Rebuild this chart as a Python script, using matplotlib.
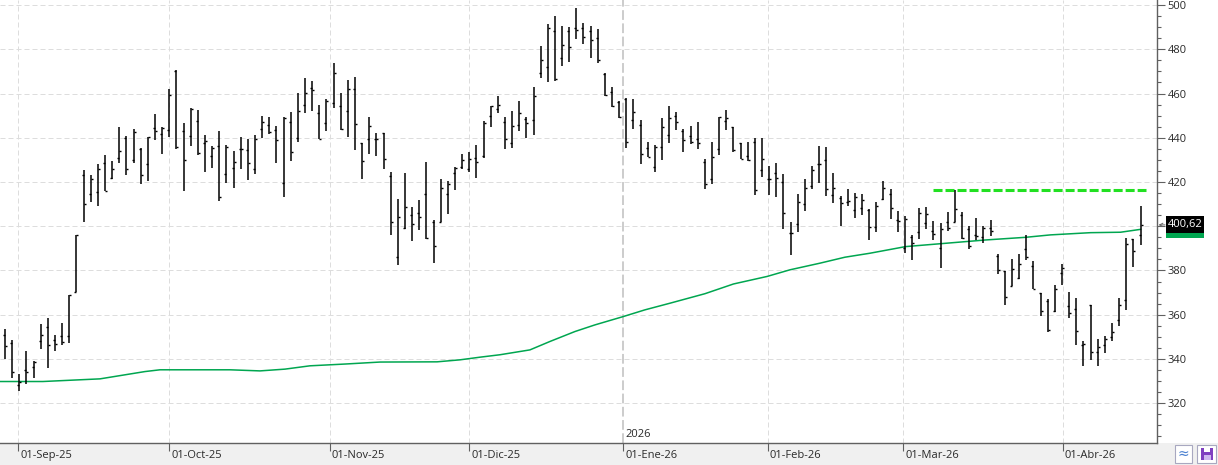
import numpy as np
import matplotlib
matplotlib.use("Agg")
import matplotlib.pyplot as plt
from matplotlib.patches import Rectangle
from matplotlib.ticker import MultipleLocator, FuncFormatter
from matplotlib.transforms import blended_transform_factory

plt.rcParams['font.family'] = ['Open Sans', 'DejaVu Sans']

# daily OHLC bars (bar index 0..159)
highs = [353.6, 348.6, 333.3, 343.4, 339.3, 355.9, 358.4, 350.9, 356.3, 369.0,
         396.2, 425.5, 423.3, 428.2, 432.2, 429.5, 445.0, 440.8, 444.0, 435.4,
         440.5, 450.8, 444.9, 462.0, 470.5, 446.7, 453.5, 452.6, 441.3, 436.4,
         443.1, 436.7, 434.0, 440.4, 439.5, 441.3, 449.8, 449.4, 445.5, 449.2,
         451.7, 460.1, 467.0, 465.7, 454.7, 457.5, 473.8, 460.2, 466.1, 467.5,
         437.5, 449.4, 442.2, 442.2, 424.5, 412.3, 424.1, 408.7, 411.9, 429.1,
         402.7, 421.4, 420.5, 426.8, 432.7, 433.6, 436.7, 447.4, 454.4, 458.7,
         449.4, 452.1, 456.6, 449.5, 463.0, 481.5, 491.6, 495.2, 490.5, 489.9,
         498.6, 491.7, 490.4, 489.2, 469.1, 462.8, 456.5, 458.1, 457.5, 447.9,
         438.1, 436.6, 448.9, 454.4, 451.5, 444.0, 445.2, 447.1, 430.3, 438.1,
         449.4, 452.6, 444.7, 437.5, 438.0, 439.9, 439.9, 427.4, 428.6, 423.6,
         402.0, 414.6, 421.4, 427.4, 436.4, 435.8, 424.1, 413.6, 416.9, 415.2,
         414.6, 407.8, 411.0, 420.5, 416.9, 406.9, 404.7, 396.1, 408.3, 408.7,
         402.4, 401.4, 406.5, 416.4, 406.5, 400.2, 403.8, 400.2, 402.9, 387.3,
         379.7, 385.2, 387.5, 396.1, 384.2, 369.7, 367.0, 373.5, 383.0, 370.3,
         367.6, 348.2, 364.5, 349.1, 350.5, 356.3, 367.6, 394.6, 394.3, 409.2]
lows = [340.1, 331.6, 325.3, 328.6, 331.2, 344.3, 336.1, 343.8, 346.2, 347.4,
        370.2, 402.1, 411.1, 409.3, 416.1, 421.5, 428.8, 423.3, 428.8, 419.0,
        420.6, 439.2, 432.8, 440.5, 435.1, 416.1, 436.4, 432.1, 424.7, 426.2,
        411.3, 419.4, 417.5, 426.1, 421.1, 423.5, 440.1, 441.9, 428.8, 413.4,
        429.7, 438.3, 451.4, 452.3, 439.3, 443.2, 453.6, 443.7, 440.5, 434.6,
        421.5, 432.8, 431.9, 426.1, 396.2, 382.7, 398.6, 393.5, 398.5, 394.4,
        383.6, 401.8, 405.7, 416.6, 426.1, 424.7, 422.0, 430.7, 445.0, 451.4,
        435.1, 435.5, 443.2, 440.1, 441.4, 467.2, 465.4, 465.8, 472.6, 474.4,
        484.8, 482.5, 476.2, 473.6, 459.0, 453.8, 449.1, 435.2, 444.1, 428.3,
        431.2, 424.4, 430.1, 437.8, 443.7, 433.7, 437.3, 435.1, 417.0, 419.3,
        432.2, 443.7, 433.7, 430.6, 429.7, 414.2, 422.4, 414.2, 413.3, 398.9,
        387.0, 397.4, 407.1, 417.0, 419.6, 413.9, 410.7, 400.2, 409.3, 403.8,
        405.1, 394.0, 397.4, 412.0, 403.3, 397.4, 388.1, 384.9, 394.4, 398.8,
        394.0, 381.3, 398.0, 401.8, 394.4, 389.9, 393.7, 392.6, 395.8, 378.6,
        364.2, 372.9, 376.1, 384.9, 371.8, 359.2, 352.0, 361.4, 373.5, 358.7,
        346.5, 337.0, 339.5, 337.0, 342.5, 348.3, 354.8, 362.3, 381.8, 391.3]
opens = [350.9, 347.1, 328.0, 335.1, 336.3, 348.0, 354.4, 348.5, 350.3, 350.3,
         370.3, 423.0, 414.6, 415.4, 428.5, 421.7, 430.7, 439.9, 429.8, 434.9,
         428.0, 444.4, 441.6, 443.4, 470.2, 443.1, 440.8, 447.4, 437.5, 431.8,
         436.3, 423.6, 426.2, 434.9, 434.5, 425.9, 444.0, 445.8, 443.4, 419.6,
         447.0, 439.8, 454.7, 462.3, 451.1, 446.5, 455.6, 454.2, 452.0, 461.9,
         437.5, 439.3, 439.3, 442.0, 422.7, 386.0, 399.1, 405.0, 405.9, 414.6,
         401.8, 402.0, 414.6, 424.1, 426.7, 425.8, 430.7, 431.8, 449.7, 452.9,
         447.0, 437.5, 445.6, 448.5, 447.9, 469.1, 471.8, 488.1, 475.9, 488.1,
         489.5, 489.5, 488.1, 484.9, 468.8, 460.7, 456.2, 457.5, 447.9, 445.6,
         435.2, 426.8, 435.7, 441.1, 449.7, 442.9, 440.7, 439.3, 428.9, 421.2,
         434.8, 447.4, 444.7, 437.5, 431.6, 438.0, 425.3, 421.4, 423.9, 420.2,
         396.8, 400.9, 409.9, 418.1, 428.0, 429.8, 414.0, 412.7, 410.8, 407.2,
         408.1, 407.4, 399.5, 412.2, 414.5, 402.7, 390.1, 395.0, 397.3, 401.4,
         397.7, 390.1, 401.8, 401.8, 405.0, 398.6, 395.9, 395.0, 399.1, 386.4,
         379.7, 372.9, 376.5, 389.6, 381.9, 369.7, 366.1, 361.6, 378.8, 363.9,
         362.5, 346.2, 364.2, 343.2, 346.2, 349.8, 357.5, 366.6, 394.3, 395.9]
closes = [345.8, 334.0, 329.5, 334.0, 338.7, 350.9, 346.2, 346.8, 347.6, 369.0,
          395.9, 409.9, 421.2, 425.8, 416.1, 425.8, 433.9, 425.8, 442.5, 423.2,
          440.4, 442.9, 444.3, 459.2, 435.7, 429.8, 453.0, 433.0, 438.4, 435.4,
          413.3, 435.8, 428.9, 434.9, 428.5, 439.3, 447.0, 442.5, 439.0, 448.8,
          433.4, 452.0, 460.1, 461.4, 439.6, 456.6, 469.1, 443.8, 461.9, 446.1,
          429.4, 445.2, 439.3, 430.3, 401.8, 404.1, 408.6, 400.9, 404.1, 394.9,
          391.0, 417.2, 419.0, 426.4, 429.8, 430.3, 428.9, 446.5, 454.2, 454.7,
          439.3, 445.2, 451.1, 446.5, 458.7, 475.0, 489.5, 466.7, 481.8, 480.9,
          488.6, 485.5, 484.1, 475.0, 459.5, 454.2, 449.2, 438.0, 451.5, 432.5,
          431.2, 435.8, 444.7, 448.8, 447.0, 439.0, 438.3, 437.5, 419.0, 431.2,
          449.2, 448.8, 434.6, 430.6, 430.1, 416.3, 430.3, 421.5, 421.7, 405.9,
          396.8, 411.0, 417.2, 425.3, 428.0, 416.7, 417.2, 410.4, 411.3, 413.4,
          411.7, 399.5, 409.0, 417.2, 408.1, 402.3, 403.2, 392.3, 405.9, 405.4,
          396.4, 398.6, 399.1, 407.7, 394.9, 391.0, 395.5, 399.1, 397.9, 380.1,
          368.1, 380.7, 382.8, 386.0, 371.8, 361.6, 352.9, 371.5, 381.0, 360.7,
          352.6, 346.7, 343.2, 345.3, 348.9, 352.1, 364.3, 391.9, 388.7, 400.62]

# moving average (green line), sampled along the chart
ma_idx = [-0.7, 5.3, 13.3, 19.6, 21.7, 31.5, 35.7, 39.2, 42.7, 47.6, 52.5, 60.5,
          63.7, 66.5, 69.3, 73.5, 76.3, 79.8, 82.6, 86.6, 89.6, 93.1, 98.0, 102.0,
          106.7, 109.9, 114.1, 117.6, 121.1, 126.1, 131.7, 137.3, 142.9, 146.4,
          152.0, 156.2, 159.0]
ma_val = [329.8, 329.8, 331.0, 334.3, 335.1, 335.1, 334.6, 335.4, 336.9, 337.7, 338.6, 338.7,
          339.6, 340.8, 341.9, 344.1, 347.9, 352.4, 355.4, 359.2, 362.2, 365.2, 369.5, 373.9,
          377.3, 380.3, 383.3, 386.0, 387.8, 390.8, 392.3, 393.8, 395.0, 396.1,
          397.1, 397.3, 398.6]

# resistance level (dashed green)
res_level = 416.4
res_start, res_end = 130.0, 159.8

month_labels = ['01-Sep-25', '01-Oct-25', '01-Nov-25', '01-Dic-25',
                '01-Ene-26', '01-Feb-26', '01-Mar-26', '01-Abr-26']
month_pos = [1.86, 23.0, 45.45, 65.0, 86.6, 106.8, 125.8, 148.1]
year_label = '2026'
year_pos = 86.6

W, H = 1218, 465
fig = plt.figure(figsize=(W / 100, H / 100), dpi=100)
ax = fig.add_axes([0, 22 / H, 1157 / W, 443 / H])
ax.set_xlim(-0.7, 161.3)
ax.set_ylim(302.0, 502.3)

# bottom strip
fig.patches.append(Rectangle((0, 0), 1, 22 / H, transform=fig.transFigure,
                             facecolor='#f0f0f0', edgecolor='none', zorder=-5))

for s in ['left', 'top']:
    ax.spines[s].set_visible(False)
for s in ['right', 'bottom']:
    ax.spines[s].set_color('#606060')
    ax.spines[s].set_linewidth(1.0)

# y axis on the right; the label under the last-price box stays hidden, as in the source
last = closes[-1]
ax.yaxis.tick_right()
ax.yaxis.set_major_locator(MultipleLocator(20))
ax.yaxis.set_minor_locator(MultipleLocator(5))
ax.yaxis.set_major_formatter(FuncFormatter(lambda v, p: '' if abs(v - last) < 6 else f"{v:.0f}"))
ax.tick_params(axis='y', which='major', length=6, width=0.8, colors='#606060',
               labelcolor='#2a2a2a', labelsize=8, pad=1.5)
ax.tick_params(axis='y', which='minor', length=3, width=0.8, colors='#606060')
ax.yaxis.grid(True, which='major', color='#dddddd', linestyle=(0, (5, 3)), linewidth=0.72)
ax.set_axisbelow(True)

# x axis: month ticks
ax.set_xticks(month_pos)
ax.set_xticklabels([])
ax.tick_params(axis='x', length=6, width=0.8, colors='#606060')
blend = blended_transform_factory(ax.transData, ax.transAxes)
for p, lab in zip(month_pos, month_labels):
    if p != year_pos:
        ax.axvline(p, color='#dddddd', linestyle=(0, (5, 3)), linewidth=0.72, zorder=0)
    ax.annotate(lab, xy=(p, 0), xycoords=blend, xytext=(1.5, -9), textcoords='offset points',
                ha='left', va='center', fontsize=8, color='#2a2a2a', annotation_clip=False)
ax.axvline(year_pos, color='#cccccc', linestyle=(0, (5, 1.8)), linewidth=1.4, zorder=0)
ax.annotate(year_label, xy=(year_pos, 0), xycoords=blend, xytext=(1.5, 2), textcoords='offset points',
            ha='left', va='bottom', fontsize=8, color='#2a2a2a')

# OHLC bars
x = np.arange(len(closes))
ax.vlines(x, lows, highs, color='black', linewidth=1.1, zorder=3)
ax.hlines(opens, x - 0.28, x, color='black', linewidth=1.0, zorder=3)
ax.hlines(closes, x, x + 0.28, color='black', linewidth=1.0, zorder=3)

# moving average
ax.plot(ma_idx, ma_val, color='#00a650', linewidth=1.1, zorder=2)

# resistance
ax.hlines(res_level, res_start, res_end, color='#22e022', linewidth=2.2,
          linestyles=(0, (2.95, 0.98)), zorder=2)

# last-value labels on the axis
yb = blended_transform_factory(ax.transAxes, ax.transData)
box_h = 7.7
ax.add_patch(Rectangle((1166 / 1157, ma_val[-1] - box_h / 2), 38.3 / 1157, box_h,
                       transform=yb, facecolor='#00a650', edgecolor='none', clip_on=False, zorder=5))
ax.add_patch(Rectangle((1166 / 1157, last - box_h / 2), 38.3 / 1157, box_h,
                       transform=yb, facecolor='black', edgecolor='none', clip_on=False, zorder=6))
ax.text(1185.2 / 1157, last, f"{last:.2f}".replace('.', ','), transform=yb,
        ha='center', va='center', color='white', fontsize=8, zorder=7, clip_on=False)
ax.annotate('', xy=(1158.5 / 1157, last), xycoords=yb,
            xytext=(1165 / 1157, last), textcoords=yb,
            arrowprops=dict(arrowstyle='->', color='#666666', lw=0.7,
                            shrinkA=0, shrinkB=0, mutation_scale=6),
            annotation_clip=False)

# small buttons in the bottom-right corner
def px_rect(x0, y0, w, h, **kw):
    fig.patches.append(Rectangle((x0 / W, (H - y0 - h) / H), w / W, h / H,
                                 transform=fig.transFigure, **kw))

px_rect(1175, 445, 17, 18, facecolor='white', edgecolor='#a8a8c0', linewidth=0.8, zorder=3)
px_rect(1197, 445, 19, 18, facecolor='white', edgecolor='#a8a8c0', linewidth=0.8, zorder=3)
fig.text(1183.5 / W, (H - 454) / H, '\u2248', ha='center', va='center', color='#4a80d0',
         fontsize=10, family='DejaVu Sans', zorder=4)
px_rect(1201, 448, 12, 12, facecolor='#8040c0', edgecolor='none', zorder=4)
px_rect(1204, 448, 6, 4, facecolor='white', edgecolor='none', zorder=5)
px_rect(1203.5, 455, 7, 5, facecolor='#d0b8f0', edgecolor='none', zorder=5)

fig.savefig('out.png', dpi=100)
